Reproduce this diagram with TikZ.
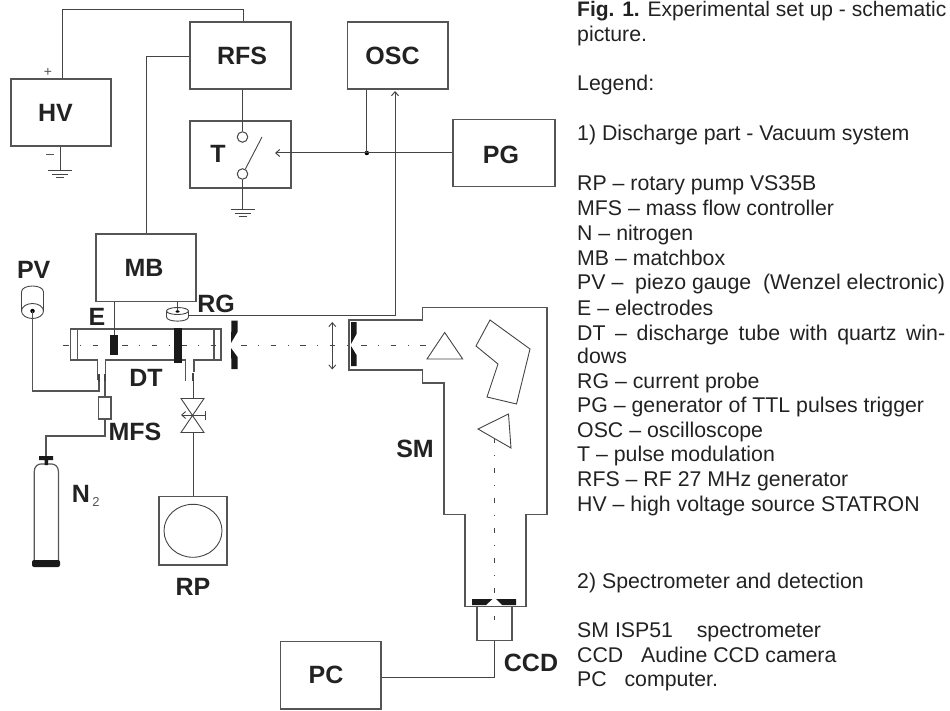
\documentclass[tikz,border=0pt]{standalone}
\usepackage{fontspec}
\setmainfont{Liberation Sans}
\usetikzlibrary{arrows.meta,calc}
\definecolor{ln}{HTML}{555555}
\definecolor{wr}{HTML}{444444}
\definecolor{tx}{HTML}{222222}
\tikzset{
  boxn/.style={draw=ln,line width=1.3pt,rectangle,inner sep=0pt,fill=none},
  wire/.style={draw=wr,line width=1pt},
  part/.style={draw=ln,line width=1.2pt,line join=miter},
  thin part/.style={draw=wr,line width=0.9pt},
  blk/.style={fill=black!90,draw=none},
  lab/.style={font=\fontsize{25}{28}\selectfont\bfseries,text=tx,inner sep=0pt},
  leg/.style={font=\fontsize{21.3}{25}\selectfont,text=tx,inner sep=0pt,anchor=base west},
  sgn/.style={font=\fontsize{14}{16}\selectfont,text=ln,inner sep=0pt},
  axish/.style={draw=wr,line width=0.9pt,dash pattern=on 5.5pt off 11.5pt on 1pt off 11.5pt},
  tip/.style={>={Straight Barb[length=4pt,width=7pt]}},
  pin/.style={circle,draw=wr,line width=1pt,fill=white,minimum size=10.5pt,inner sep=0pt},
  joint/.style={circle,fill=black,inner sep=0pt,minimum size=4.5pt},
  gnd/.style={draw=wr,line width=1pt}
}
\begin{document}
\begin{tikzpicture}[x=1pt,y=-1pt]
\useasboundingbox (0,0) rectangle (950,711);
% boxes
\node[boxn,minimum width=100pt,minimum height=67pt] (hv) at (61,112.5) {};
\node[boxn,minimum width=101pt,minimum height=67pt] (rfs) at (240.5,55.5) {};
\node[boxn,minimum width=101pt,minimum height=67pt] (t) at (240.5,154.5) {};
\node[boxn,minimum width=100.5pt,minimum height=67pt] (osc) at (397.7,55.5) {};
\node[boxn,minimum width=102pt,minimum height=67pt] (pg) at (504,153) {};
\node[boxn,minimum width=100pt,minimum height=67.5pt] (mb) at (146,267.8) {};
\node[boxn,minimum width=68pt,minimum height=68.5pt] (rp) at (193,530.8) {};
\node[boxn,minimum width=100.5pt,minimum height=67.5pt] (pc) at (330.7,675.2) {};
\node[boxn,minimum width=35pt,minimum height=34pt] (ccd) at (494.5,623.7) {};
\node[boxn,minimum width=12.5pt,minimum height=22pt] (mfs) at (104.7,408) {};
% box labels
\node[lab] (lhv) at (55.5,113) {HV};
\node[lab] (lrfs) at (242,56) {RFS};
\node[lab] (lt) at (218,154) {T};
\node[lab] (losc) at (392.5,55.5) {OSC};
\node[lab] (lpg) at (501,155) {PG};
\node[lab] (lmb) at (144,267.5) {MB};
\node[lab] (lpv) at (33.7,270) {PV};
\node[lab] (lrg) at (216,303.5) {RG};
\node[lab] (le) at (97,317) {E};
\node[lab] (ldt) at (146,377.5) {DT};
\node[lab] (lmfs) at (135,432) {MFS};
\node[lab] (lsm) at (415,448.5) {SM};
\node[lab] (lrp) at (193,587) {RP};
\node[lab] (lpc) at (326,674.5) {PC};
\node[lab] (lccd) at (531,662.5) {CCD};
\node[lab] (ln2) at (81,493.5) {N};
\node[font=\fontsize{13}{14}\selectfont,text=ln,inner sep=0pt] (ln2s) at (96,502) {2};
\node[sgn] (plus) at (48,72) {+};
\node[sgn] (minus) at (50,156) {\rule[3pt]{8pt}{1.2pt}};
% named connection points
\node[pin] (pa) at (242.5,137) {};
\node[pin] (pb) at (242.5,174) {};
\coordinate (g1) at (242.5,210);
\coordinate (g2) at (60,171);
\node[joint] (jn) at (366.8,153) {};
\coordinate (swarrow) at (275,153);
\coordinate (rgw) at (189,315);
% wiring
\draw[wire] (hv.north -| 62,0) -- (62,10) -- (243,10) -- (rfs.north -| 243,0);
\draw[wire] (rfs.west |- 0,57) -- (146,57) -- (mb.north);
\draw[wire] (rfs.south -| pa) -- (pa.north);
\draw[wire] (pb.south) -- (g1);
\draw[wire] (hv.south -| g2) -- (g2);
\draw[thin part] (pb.60) -- (262,137);
\draw[wire,tip,->] (pg.west) -- (swarrow);
\draw[wire] (osc.south -| jn) -- (jn.center);
\draw[wire,tip,->] (rgw) -- (395,315) -- (395,91);
% grounds
\draw[gnd] ($(g1)+(-12,0)$) -- ($(g1)+(12,0)$) ($(g1)+(-8,3.5)$) -- ($(g1)+(8,3.5)$) ($(g1)+(-4,7)$) -- ($(g1)+(4,7)$);
\draw[gnd] ($(g2)+(-12,0)$) -- ($(g2)+(12,0)$) ($(g2)+(-8,3.5)$) -- ($(g2)+(8,3.5)$) ($(g2)+(-4,7)$) -- ($(g2)+(4,7)$);
% discharge tube
\draw[part] (97.3,380) -- (97.3,360) -- (70.5,360) -- (70.5,329) -- (221,329) -- (221,360) -- (194,360) -- (194,372);
\draw[part] (105.7,375) -- (105.7,360) -- (185.5,360) -- (185.5,381);
\draw[part] (77.5,329) -- (77.5,360) (214,329) -- (214,360);
\draw[axish] (63,345) -- (227,345);
\draw[axish] (241,345) -- (347,345);
\draw[axish] (361,345) -- (427,345);
% electrodes
\node[blk,minimum width=8.5pt,minimum height=20pt,inner sep=0pt] (el1) at (114,344.7) {};
\node[blk,minimum width=8.5pt,minimum height=35pt,inner sep=0pt] (el2) at (178,345) {};
\draw[wire] (mb.south -| el1) -- (el1.north);
% RG probe
\draw[thin part,fill=white] (166.5,311) -- (166.5,317) .. controls (166.5,322.5) and (188.5,322.5) .. (188.5,317) -- (188.5,311);
\draw[thin part,fill=white] (177.5,311) ellipse [x radius=11pt,y radius=3.5pt];
\fill[black] (177.5,311.5) ellipse [x radius=2pt,y radius=1.2pt];
\draw[wire] (mb.south -| 177.5,0) -- (177.5,311);
% PV
\draw[thin part] (21.5,311) -- (21.5,292) .. controls (21.5,284) and (43.5,284) .. (43.5,292) -- (43.5,311);
\draw[thin part] (32.5,311) ellipse [x radius=11pt,y radius=7.5pt];
\node[joint] (pvdot) at (32.5,311) {};
\draw[part] (pvdot.center) -- (32.5,391) -- (99,391) -- (99,381);
\draw[draw=wr,line width=1.8pt] (98.7,374) -- (98.7,382) (105,374) -- (105,381);
\draw[part] (105,381) -- (mfs.north -| 105,0);
% N2 bottle
\coordinate (capb) at (46,457);
\draw[part] (mfs.south -| 105,0) -- (105,436) -- (46,436) -- (capb);
\draw[part] (34.2,561) -- (34.2,472) .. controls (34.2,466) and (38,464) .. (41,464) -- (51.5,464) .. controls (54.5,464) and (58.5,466) .. (58.5,472) -- (58.5,561);
\fill[black!90] (39,456) rectangle (53,460) (44.5,460) rectangle (48,465);
\fill[black!90,rounded corners=2pt] (32,560) rectangle (60,567);
% valve and pump
\draw[draw=wr,line width=1.6pt] (193,373) -- (193,381);
\draw[wire] (193,381) -- (193,398);
\draw[thin part] (181,398.5) -- (204,398.5) -- (181,432.5) -- (204,432.5) -- cycle;
\draw[thin part,tip,->] (205,415) -- (181,415);
\draw[thin part] (205.5,411) -- (205.5,419.5);
\draw[wire] (193,432.5) -- (rp.north);
\draw[thin part] (rp.center) ellipse [x radius=29pt,y radius=26.5pt];
% iris, lens
\fill[black!90] (231.5,320.5) -- (237.5,320.5) -- (237.5,332) -- (231,343) -- cycle;
\fill[black!90] (231,348) -- (237.5,357) -- (237.5,369) -- (231.5,369) -- cycle;
\draw[thin part,tip,<->] (332.3,322) -- (332.3,369.5);
% spectrometer
\draw[part] (349,320) -- (422.5,320) -- (422.5,307.5) -- (547,307.5) -- (547,514.7) -- (526,514.7) -- (526,606.7) -- (465,606.7) -- (465,514.7) -- (444,514.7) -- (444,383) -- (422.5,383) -- (422.5,370) -- (349,370) -- cycle;
\fill[black!90] (351,322) -- (356.5,322) -- (356.5,334) -- (351,344) -- cycle;
\fill[black!90] (351,346) -- (356.5,355) -- (356.5,366) -- (351,366) -- cycle;
\draw[thin part] (444.7,332.5) -- (462.7,359) -- (427,359) -- cycle;
\draw[thin part] (490,320) -- (530,349) -- (516.5,404) -- (487,397) -- (498,364) -- (476,346) -- cycle;
\draw[thin part] (478,429) -- (508.5,414) -- (511,448) -- cycle;
\draw[draw=wr,line width=0.9pt,dash pattern=on 5pt off 12pt on 1pt off 12pt] (494,438) -- (494,594);
\draw[draw=wr,line width=0.9pt] (494,616) -- (494,620);
\fill[black!90] (472,599) -- (492.5,599) -- (486,605) -- (472,605) -- cycle;
\fill[black!90] (496,599) -- (516,599) -- (516,605) -- (502,605) -- cycle;
\draw[wire] (pc.east |- 0,677.5) -- (494,677.5) -- (ccd.south -| 494,0);
% legend
\node[leg,font=\fontsize{21}{25}\selectfont] (t1) at (577,17) {\textbf{Fig. 1.} Experimental set up - schematic};
\node[leg] (t2) at (577,41.5) {picture.};
\node[leg] (t3) at (577,91) {Legend:};
\node[leg] (t4) at (577,141) {1) Discharge part - Vacuum system};
\node[leg] (t5) at (577,191) {RP – rotary pump VS35B};
\node[leg] (t6) at (577,216) {MFS – mass flow controller};
\node[leg] (t7) at (577,240.5) {N – nitrogen};
\node[leg] (t8) at (577,265.5) {MB – matchbox};
\node[leg] (t9) at (577,290) {PV –\ \ piezo gauge\ \ (Wenzel electronic)};
\node[leg] (t10) at (577,315) {E – electrodes};
\node[leg] (t11) at (577,340) {\makebox[368pt][s]{DT – discharge tube with quartz win-}};
\node[leg] (t12) at (577,363) {dows};
\node[leg] (t13) at (577,388) {RG – current probe};
\node[leg] (t14) at (577,412) {PG – generator of TTL pulses trigger};
\node[leg] (t15) at (577,437) {OSC – oscilloscope};
\node[leg] (t16) at (577,461) {T – pulse modulation};
\node[leg] (t17) at (577,486) {RFS – RF 27 MHz generator};
\node[leg] (t18) at (577,511) {HV – high voltage source STATRON};
\node[leg] (t19) at (577,588) {2) Spectrometer and detection};
\node[leg] (t20) at (577,637) {SM ISP51\ \ \ \ spectrometer};
\node[leg] (t21) at (577,662) {CCD\ \ \ Audine CCD camera};
\node[leg] (t22) at (577,686) {PC\ \ \ computer.};
\end{tikzpicture}
\end{document}
